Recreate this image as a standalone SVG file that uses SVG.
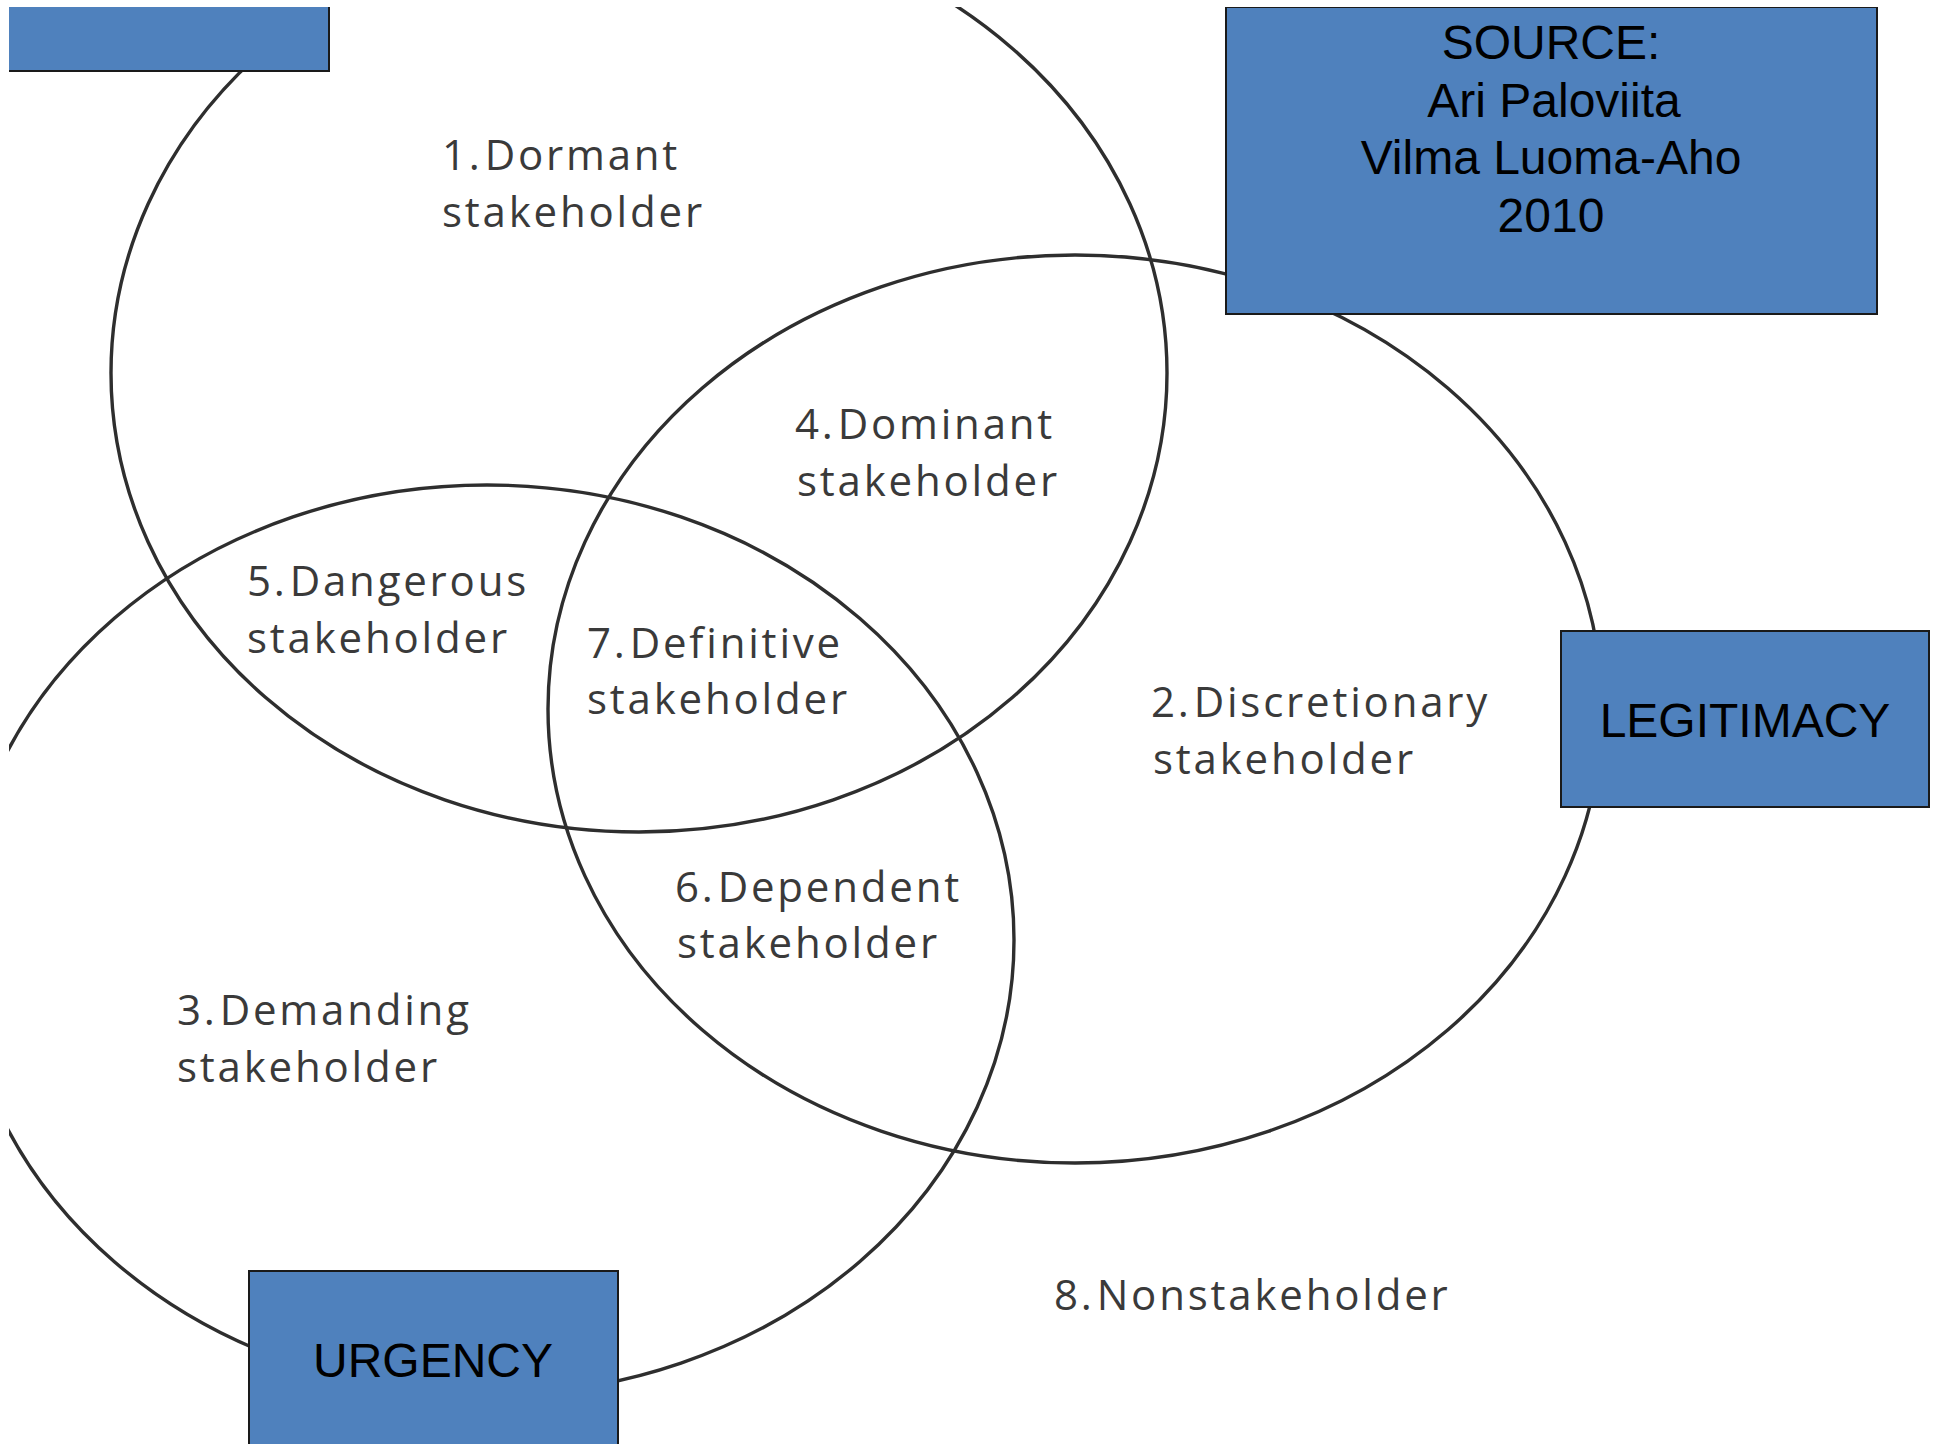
<svg xmlns="http://www.w3.org/2000/svg" width="1940" height="1444" viewBox="0 0 1940 1444">
  <style>
    .ring { fill: none; stroke: #2e2e2e; stroke-width: 3.4; }
    .box { fill: #4f81bd; stroke: #1a1a1a; stroke-width: 2; }
    .boxtext { font-family: "Liberation Sans", Arial, sans-serif; font-size: 48px; fill: #000000; text-anchor: middle; }
    .lbl { font-family: "Open Sans", "Noto Sans", sans-serif; font-size: 42px; font-weight: 500; fill: #3a3a3a; letter-spacing: 2.8px; }
  </style>
  <defs>
    <clipPath id="frame">
      <rect x="9" y="7" width="1931" height="1437"/>
    </clipPath>
  </defs>
  <rect width="1940" height="1444" fill="#ffffff"/>
  <g clip-path="url(#frame)">
    <!-- the three attribute circles -->
    <g id="connectors">
      <ellipse id="power-ring" class="ring" cx="639" cy="373" rx="528" ry="459"/>
      <ellipse id="legitimacy-ring" class="ring" cx="1075" cy="709" rx="527" ry="454"/>
      <ellipse id="urgency-ring" class="ring" cx="487" cy="940" rx="527" ry="455"/>
    </g>

    <!-- stakeholder class labels -->
    <g id="label-dormant">
      <text class="lbl" x="442" y="170">1.<tspan dx="2">Dormant</tspan></text>
      <text class="lbl" x="442" y="227">stakeholder</text>
    </g>
    <g id="label-dominant">
      <text class="lbl" x="795" y="439">4.<tspan dx="2">Dominant</tspan></text>
      <text class="lbl" x="797" y="496">stakeholder</text>
    </g>
    <g id="label-dangerous">
      <text class="lbl" x="247" y="596">5.<tspan dx="2">Dangerous</tspan></text>
      <text class="lbl" x="247" y="653">stakeholder</text>
    </g>
    <g id="label-definitive">
      <text class="lbl" x="587" y="658">7.<tspan dx="2">Definitive</tspan></text>
      <text class="lbl" x="587" y="714">stakeholder</text>
    </g>
    <g id="label-discretionary">
      <text class="lbl" x="1151" y="717">2.<tspan dx="2">Discretionary</tspan></text>
      <text class="lbl" x="1153" y="774">stakeholder</text>
    </g>
    <g id="label-dependent">
      <text class="lbl" x="675" y="902">6.<tspan dx="2">Dependent</tspan></text>
      <text class="lbl" x="677" y="958">stakeholder</text>
    </g>
    <g id="label-demanding">
      <text class="lbl" x="177" y="1025">3.<tspan dx="2">Demanding</tspan></text>
      <text class="lbl" x="177" y="1082">stakeholder</text>
    </g>
    <g id="label-nonstakeholder">
      <text class="lbl" x="1054" y="1310">8.<tspan dx="2">Nonstakeholder</tspan></text>
    </g>

    <!-- title boxes -->
    <g id="box-power">
      <rect class="box" x="-10" y="-10" width="339" height="81"/>
    </g>
    <g id="box-source">
      <rect class="box" x="1226" y="7" width="651" height="307"/>
      <text class="boxtext" x="1551" y="59">SOURCE:</text>
      <text class="boxtext" x="1554" y="117">Ari Paloviita</text>
      <text class="boxtext" x="1551" y="174">Vilma Luoma-Aho</text>
      <text class="boxtext" x="1551" y="232">2010</text>
    </g>
    <g id="box-legitimacy">
      <rect class="box" x="1561" y="631" width="368" height="176"/>
      <text class="boxtext" x="1745" y="737">LEGITIMACY</text>
    </g>
    <g id="box-urgency">
      <rect class="box" x="249" y="1271" width="369" height="200"/>
      <text class="boxtext" x="433" y="1377">URGENCY</text>
    </g>
  </g>
</svg>
